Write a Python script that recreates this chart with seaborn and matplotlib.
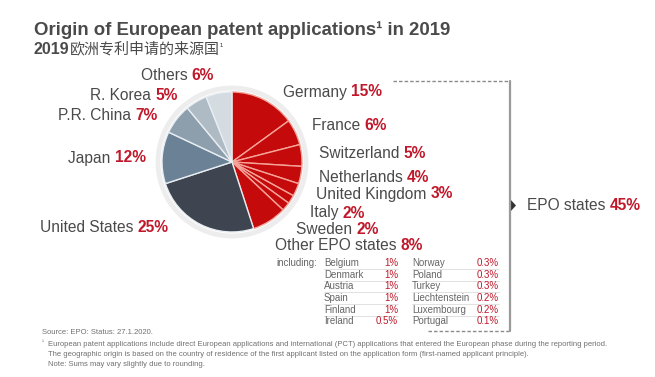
import matplotlib
matplotlib.use("Agg")
import numpy as np
import pandas as pd
import seaborn as sns
import matplotlib.pyplot as plt
from matplotlib.patches import Circle, Polygon

# ---------------- data ----------------
countries = ["Germany", "France", "Switzerland", "Netherlands", "United Kingdom",
             "Italy", "Sweden", "Other EPO states",
             "United States", "Japan", "P.R. China", "R. Korea", "Others"]
shares = [15, 6, 5, 4, 3, 2, 2, 8, 25, 12, 7, 5, 6]
is_epo = [True] * 8 + [False] * 5
epo_total = 45

incl_left = ["Belgium", "Denmark", "Austria", "Spain", "Finland", "Ireland"]
incl_left_vals = ["1%", "1%", "1%", "1%", "1%", "0.5%"]
incl_right = ["Norway", "Poland", "Turkey", "Liechtenstein", "Luxembourg", "Portugal"]
incl_right_vals = ["0.3%", "0.3%", "0.3%", "0.2%", "0.2%", "0.1%"]

title = "Origin of European patent applications\u00b9 in 2019"
subtitle_num = "2019"
subtitle_cn = "欧洲专利申请的来源国"
footnotes = [
    "Source: EPO: Status: 27.1.2020.",
    "European patent applications include direct European applications and international (PCT) applications that entered the European phase during the reporting period.",
    "The geographic origin is based on the country of residence of the first applicant listed on the application form (first-named applicant principle).",
    "Note: Sums may vary slightly due to rounding.",
]

# ---------------- style ----------------
sns.set_theme(style="white")
plt.rcParams["font.family"] = ["Liberation Sans", "Noto Sans CJK SC", "DejaVu Sans"]

W, H = 655, 377
fig = plt.figure(figsize=(W / 100, H / 100), dpi=100)
ax = fig.add_axes([0, 0, 1, 1])
Y = lambda y: H - y

GREY_TXT = "#4a4a4a"
RED_TXT = "#c0182a"
red = "#c40a0a"
greys = ["#3e4551", "#6b8296", "#8d9eac", "#aebac4", "#d4dbe1"]
colors = []
gi = 0
for e in is_epo:
    if e:
        colors.append(red)
    else:
        colors.append(greys[gi]); gi += 1

cx, cy, r = 232, 162, 70
ax.add_patch(Circle((cx, Y(cy)), r + 4, fill=False, ec="#ededed", lw=3.5, zorder=0))
wedges, _ = ax.pie(shares, colors=colors, startangle=90, counterclock=False,
                   center=(cx, Y(cy)), radius=r,
                   wedgeprops=dict(linewidth=1.0, edgecolor="white"))
for w, e in zip(wedges, is_epo):
    w.set_edgecolor("#f5a49a" if e else "#e8edf1")
    w.set_zorder(2)

ax.set_xlim(0, W)
ax.set_ylim(0, H)
ax.set_aspect("auto")
ax.axis("off")

renderer = fig.canvas.get_renderer()


def width_of(t):
    return t.get_window_extent(renderer=renderer).width


LBL = 11.2


def two_part(x, y, name, val, size=LBL, align="left"):
    if align == "left":
        t = ax.text(x, Y(y), name + " ", fontsize=size, color=GREY_TXT, ha="left", va="center")
        ax.text(x + width_of(t), Y(y), val, fontsize=size, color=RED_TXT,
                fontweight="bold", ha="left", va="center")
    else:
        v = ax.text(x, Y(y), val, fontsize=size, color=RED_TXT, fontweight="bold",
                    ha="right", va="center")
        ax.text(x - width_of(v), Y(y), name + " ", fontsize=size, color=GREY_TXT,
                ha="right", va="center")


# label positions (layout)
right_pos = [(283, 92), (312, 126), (319, 154), (319, 177), (316, 194), (310, 213), (296, 229), (275, 245)]
left_pos = [(169, 228), (146, 158), (158, 116), (178, 95), (214, 75)]
ri = li = 0
for name, s, e in zip(countries, shares, is_epo):
    if e:
        x, y = right_pos[ri]; ri += 1
        two_part(x, y, name, f"{s}%", align="left")
    else:
        x, y = left_pos[li]; li += 1
        two_part(x, y, name, f"{s}%", align="right")

# including table
TS = 7
ax.text(276, Y(263), "including:", fontsize=TS, color="#666666", ha="left", va="center")
row_ys = [263, 275, 286, 298, 310, 321]
for i, yy in enumerate(row_ys):
    ax.text(324, Y(yy), incl_left[i], fontsize=TS, color="#666666", ha="left", va="center")
    ax.text(398, Y(yy), incl_left_vals[i], fontsize=TS, color=RED_TXT, ha="right", va="center")
    ax.text(412, Y(yy), incl_right[i], fontsize=TS, color="#666666", ha="left", va="center")
    ax.text(499, Y(yy), incl_right_vals[i], fontsize=TS, color=RED_TXT, ha="right", va="center")
    if i < len(row_ys) - 1:
        ax.plot([324, 398], [Y(yy + 6), Y(yy + 6)], color="#dcdcdc", lw=0.6)
        ax.plot([412, 499], [Y(yy + 6), Y(yy + 6)], color="#dcdcdc", lw=0.6)

# bracket
ax.plot([393, 509], [Y(81), Y(81)], color="#8a8a8a", lw=1, ls=(0, (2.5, 1.5)))
ax.plot([428, 509], [Y(331), Y(331)], color="#8a8a8a", lw=1, ls=(0, (2.5, 1.5)))
ax.plot([509.5, 509.5], [Y(81), Y(331)], color="#9a9a9a", lw=1.6)
ax.add_patch(Polygon([[510, Y(199)], [516, Y(205.5)], [510, Y(212)]], closed=True,
                     fc="#333333", ec="none"))
two_part(527, 206, "EPO states", f"{epo_total}%", align="left")

# title
ax.text(34, Y(30), title, fontsize=13.4, fontweight="bold", color="#4a4a4a",
        ha="left", va="center")
t = ax.text(34, Y(49), subtitle_num, fontsize=11.5, fontweight="bold", color="#4a4a4a",
            ha="left", va="center")
x2 = 34 + width_of(t)
t2 = ax.text(x2, Y(49), subtitle_cn, fontsize=10.8, color="#4a4a4a", ha="left", va="center",
             family=["Noto Sans CJK SC"])
ax.text(x2 + width_of(t2), Y(47), "\u00b9", fontsize=7, color="#4a4a4a", ha="left", va="center")

# footnotes
FS = 5.5
ax.text(42, Y(333), footnotes[0], fontsize=FS, color="#707070", ha="left", va="center")
ax.text(42, Y(343), "\u00b9", fontsize=4.5, color="#707070", ha="left", va="center")
ax.text(48, Y(344), footnotes[1], fontsize=FS, color="#707070", ha="left", va="center")
ax.text(48, Y(354), footnotes[2], fontsize=FS, color="#707070", ha="left", va="center")
ax.text(48, Y(364), footnotes[3], fontsize=FS, color="#707070", ha="left", va="center")

fig.savefig("out.png", dpi=100, facecolor="white")
